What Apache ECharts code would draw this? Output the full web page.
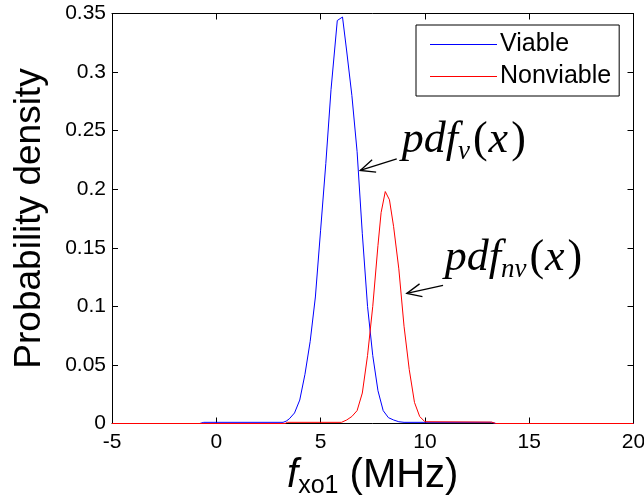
<!DOCTYPE html>
<html>
<head>
<meta charset="utf-8">
<script src="https://cdn.jsdelivr.net/npm/echarts@6/dist/echarts.min.js"></script>
<style>
  html, body { margin: 0; padding: 0; background: #fff; }
  #main { width: 644px; height: 502px; }
</style>
</head>
<body>
<div id="main"></div>
<script>
// 数据：从图上读出来的点
var viableX = [-5, -0.8, -0.6, 3.2, 3.35, 3.5, 3.75, 4.0, 4.25, 4.5, 4.75, 5.0, 5.25, 5.5, 5.8, 6.05, 6.25, 6.5, 6.75, 7.0, 7.25, 7.5, 7.75, 8.0, 8.25, 8.5, 8.75, 9.0, 13.2, 13.4, 20];
var viableY = [0, 0, 0.001, 0.001, 0.002, 0.004, 0.009, 0.02, 0.042, 0.07, 0.108, 0.165, 0.222, 0.285, 0.344, 0.347, 0.318, 0.28, 0.232, 0.162, 0.1, 0.058, 0.028, 0.011, 0.005, 0.003, 0.0015, 0.001, 0.001, 0, 0];
var nonviableX = [-5, 3.3, 3.4, 6.0, 6.25, 6.5, 6.75, 7.0, 7.25, 7.5, 7.75, 7.9, 8.1, 8.3, 8.5, 8.75, 9.0, 9.25, 9.5, 9.75, 10.0, 13.2, 13.4, 20];
var nonviableY = [0, 0, 0.001, 0.001, 0.003, 0.006, 0.011, 0.026, 0.058, 0.1, 0.152, 0.18, 0.198, 0.191, 0.168, 0.132, 0.083, 0.046, 0.018, 0.006, 0.0015, 0.0012, 0, 0];
var seriesNames = ['Viable', 'Nonviable'];

// 注释（数据坐标）：文字左上角、箭头尾、箭头尖
var noteV = { text: [8.89, 0.263], tail: [8.65, 0.226], tip: [6.9, 0.216], sub: 'v' };
var noteNv = { text: [10.95, 0.162], tail: [10.87, 0.118], tip: [9.13, 0.111], sub: 'nv' };

function zip(xs, ys) {
  var out = [];
  xs.forEach(function (x, i) { out.push([x, ys[i]]); });
  return out;
}

var myChart = echarts.init(document.getElementById('main'));

var font = 'Liberation Sans, Arial, sans-serif';
var serif = 'Liberation Serif, Times New Roman, serif';
var axisCommon = {
  type: 'value',
  axisLine: { show: true, onZero: false, lineStyle: { color: '#000', width: 1 } },
  axisTick: { show: true, inside: true, length: 6, lineStyle: { color: '#000' } },
  splitLine: { show: false }
};

var option = {
  animation: false,
  backgroundColor: '#fff',
  grid: { left: 112, right: 10.5, top: 13.5, bottom: 78.5, outerBoundsMode: 'none' },
  legend: {
    data: seriesNames,
    orient: 'vertical',
    left: 416,
    top: 25,
    backgroundColor: '#fff',
    borderColor: '#000',
    borderWidth: 1,
    borderRadius: 0,
    padding: [7, 8, 7, 14],
    icon: 'rect',
    itemWidth: 67,
    itemHeight: 1,
    itemGap: 7,
    textStyle: { fontFamily: font, fontSize: 25, color: '#000', padding: [0, 0, 0, -2] }
  },
  xAxis: [
    Object.assign({}, axisCommon, {
      min: -5, max: 20, interval: 5,
      axisLabel: { fontFamily: font, fontSize: 21, color: '#000', margin: 8 },
      name: '{i|f}{s|xo1}{n| (MHz)}',
      nameLocation: 'middle',
      nameGap: 29,
      nameMoveOverlap: false,
      nameTextStyle: {
        verticalAlign: 'top',
        rich: {
          i: { fontFamily: font, fontStyle: 'italic', fontSize: 40, color: '#000', lineHeight: 46 },
          s: { fontFamily: font, fontSize: 25, color: '#000', verticalAlign: 'bottom' },
          n: { fontFamily: font, fontSize: 40, color: '#000', lineHeight: 46 }
        }
      }
    }),
    Object.assign({}, axisCommon, {
      min: -5, max: 20, interval: 5, position: 'top',
      axisLabel: { show: false }
    })
  ],
  yAxis: [
    Object.assign({}, axisCommon, {
      min: 0, max: 0.35, interval: 0.05,
      axisLabel: { fontFamily: font, fontSize: 21, color: '#000', margin: 6 },
      name: 'Probability density',
      nameLocation: 'middle',
      nameGap: 64,
      nameMoveOverlap: false,
      nameTextStyle: { fontFamily: font, fontSize: 37, color: '#000' }
    }),
    Object.assign({}, axisCommon, {
      min: 0, max: 0.35, interval: 0.05, position: 'right',
      axisLabel: { show: false }
    })
  ],
  series: [
    {
      name: seriesNames[0], type: 'line', data: zip(viableX, viableY),
      symbol: 'none', smooth: false,
      lineStyle: { color: '#0000ff', width: 1 }, itemStyle: { color: '#0000ff' }
    },
    {
      name: seriesNames[1], type: 'line', data: zip(nonviableX, nonviableY),
      symbol: 'none', smooth: false,
      lineStyle: { color: '#ff0000', width: 1 }, itemStyle: { color: '#ff0000' }
    }
  ]
};

myChart.setOption(option);

// 画注释：箭头和 pdf 文字
function noteGraphics(n) {
  var p = myChart.convertToPixel({ gridIndex: 0 }, n.text);
  var a = myChart.convertToPixel({ gridIndex: 0 }, n.tail);
  var b = myChart.convertToPixel({ gridIndex: 0 }, n.tip);
  var ang = Math.atan2(a[1] - b[1], a[0] - b[0]);
  var len = 16, spread = 0.42;
  var h1 = [b[0] + len * Math.cos(ang + spread), b[1] + len * Math.sin(ang + spread)];
  var h2 = [b[0] + len * Math.cos(ang - spread), b[1] + len * Math.sin(ang - spread)];
  var ls = { stroke: '#000', lineWidth: 1.3 };
  return [
    { type: 'polyline', shape: { points: [a, b] }, style: ls },
    { type: 'polyline', shape: { points: [h1, b, h2] }, style: ls },
    {
      type: 'text', x: p[0], y: p[1],
      style: {
        text: '{m|pdf}{s|' + n.sub + '}{u|(}{m|x}{u|)}',
        verticalAlign: 'top',
        rich: {
          m: { fontFamily: serif, fontStyle: 'italic', fontSize: 44, fill: '#000', lineHeight: 50 },
          u: { fontFamily: serif, fontSize: 44, fill: '#000', lineHeight: 50, padding: [0, 1, 0, 3] },
          s: { fontFamily: serif, fontStyle: 'italic', fontSize: 27, fill: '#000', verticalAlign: 'bottom' }
        }
      }
    }
  ];
}

myChart.setOption({ graphic: noteGraphics(noteV).concat(noteGraphics(noteNv)) });
</script>
</body>
</html>
